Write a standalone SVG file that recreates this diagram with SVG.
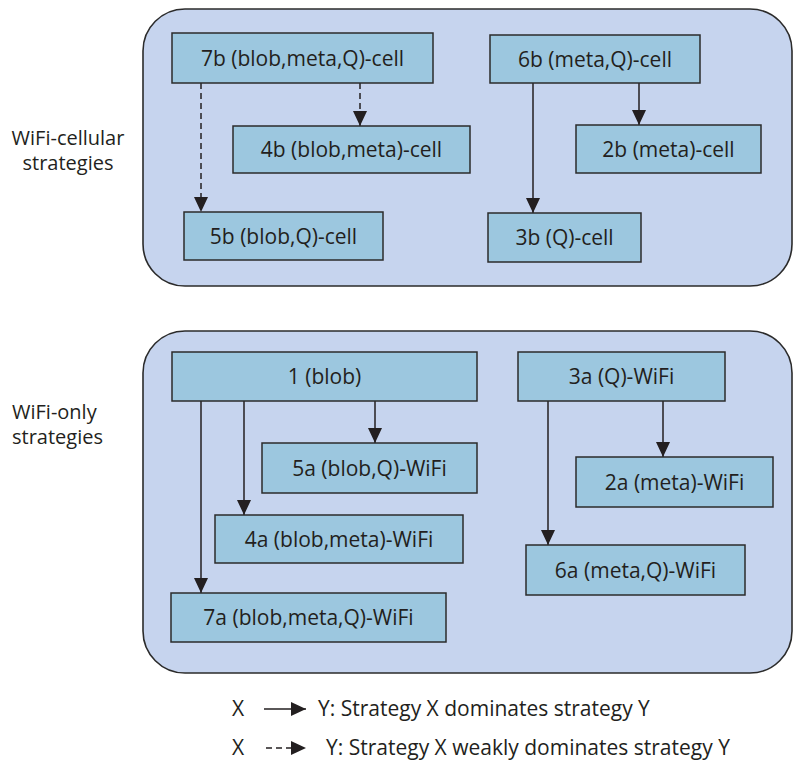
<svg xmlns="http://www.w3.org/2000/svg" width="793" height="764" viewBox="0 0 793 764">
<defs>
<style>
.cont{fill:#c6d4ee;stroke:#2b2b2b;stroke-width:1.6}
.box{fill:#9cc7df;stroke:#2b2b2b;stroke-width:1.5}
.lbl{font-family:"Open Sans","Noto Sans",sans-serif;font-size:21px;fill:#231f20;text-anchor:middle}
.side{font-family:"Open Sans","Noto Sans",sans-serif;font-size:20px;fill:#231f20}
.leg{font-family:"Open Sans","Noto Sans",sans-serif;font-size:21px;fill:#231f20}
.ed{stroke:#231f20;stroke-width:1.5;fill:none;marker-end:url(#ah)}
.dash{stroke-dasharray:6 4}
</style>
<marker id="ah" markerUnits="userSpaceOnUse" markerWidth="15" markerHeight="14" refX="15" refY="7" orient="auto">
<path d="M0,0 L15,7 L0,14 z" fill="#231f20"/>
</marker>
</defs>
<rect width="793" height="764" fill="#ffffff"/>
<g id="group-cellular">
<rect class="cont" x="143" y="9" width="649" height="277" rx="42" ry="42"/>
<text class="side" x="68" y="145" text-anchor="middle">WiFi-cellular</text>
<text class="side" x="68" y="170" text-anchor="middle">strategies</text>
</g>
<g id="group-wifi">
<rect class="cont" x="143" y="331" width="649" height="342" rx="42" ry="42"/>
<text class="side" x="12" y="419">WiFi-only</text>
<text class="side" x="12" y="444">strategies</text>
</g>
<g id="connectors">
<line class="ed dash" x1="201" y1="83" x2="201" y2="212"/>
<line class="ed dash" x1="360" y1="83" x2="360" y2="126"/>
<line class="ed" x1="533" y1="83" x2="533" y2="213"/>
<line class="ed" x1="639" y1="83" x2="639" y2="125"/>
<line class="ed" x1="201" y1="401" x2="201" y2="593"/>
<line class="ed" x1="244" y1="401" x2="244" y2="515"/>
<line class="ed" x1="375" y1="401" x2="375" y2="443"/>
<line class="ed" x1="548" y1="401" x2="548" y2="545"/>
<line class="ed" x1="663" y1="401" x2="663" y2="457"/>
</g>
<g id="n7b"><rect class="box" x="172" y="33" width="261" height="50"/><text class="lbl" x="302.5" y="65.5">7b (blob,meta,Q)-cell</text></g>
<g id="n4b"><rect class="box" x="233" y="126" width="237" height="47"/><text class="lbl" x="351.5" y="157">4b (blob,meta)-cell</text></g>
<g id="n5b"><rect class="box" x="184" y="212" width="199" height="48"/><text class="lbl" x="283.5" y="243.5">5b (blob,Q)-cell</text></g>
<g id="n6b"><rect class="box" x="490" y="35" width="210" height="48"/><text class="lbl" x="595" y="66.5">6b (meta,Q)-cell</text></g>
<g id="n2b"><rect class="box" x="576" y="125" width="185" height="48"/><text class="lbl" x="668.5" y="156.5">2b (meta)-cell</text></g>
<g id="n3b"><rect class="box" x="488" y="213" width="153" height="49"/><text class="lbl" x="564.5" y="245">3b (Q)-cell</text></g>
<g id="n1"><rect class="box" x="172" y="352" width="305" height="49"/><text class="lbl" x="324.5" y="384">1 (blob)</text></g>
<g id="n3a"><rect class="box" x="518" y="352" width="207" height="49"/><text class="lbl" x="621.5" y="384">3a (Q)-WiFi</text></g>
<g id="n5a"><rect class="box" x="262" y="443" width="215" height="50"/><text class="lbl" x="369.5" y="475.5">5a (blob,Q)-WiFi</text></g>
<g id="n2a"><rect class="box" x="576" y="457" width="197" height="50"/><text class="lbl" x="674.5" y="489.5">2a (meta)-WiFi</text></g>
<g id="n4a"><rect class="box" x="215" y="515" width="248" height="48"/><text class="lbl" x="339" y="546.5">4a (blob,meta)-WiFi</text></g>
<g id="n6a"><rect class="box" x="526" y="545" width="219" height="50"/><text class="lbl" x="635.5" y="577.5">6a (meta,Q)-WiFi</text></g>
<g id="n7a"><rect class="box" x="171" y="593" width="275" height="49"/><text class="lbl" x="308.5" y="625">7a (blob,meta,Q)-WiFi</text></g>
<g id="legend">
<text class="leg" x="232" y="716">X</text>
<line class="ed" x1="264" y1="709" x2="306" y2="709"/>
<text class="leg" x="318" y="716">Y: Strategy X dominates strategy Y</text>
<text class="leg" x="232" y="755">X</text>
<line class="ed dash" x1="266" y1="748" x2="306" y2="748"/>
<text class="leg" x="326" y="755">Y: Strategy X weakly dominates strategy Y</text>
</g>
</svg>
